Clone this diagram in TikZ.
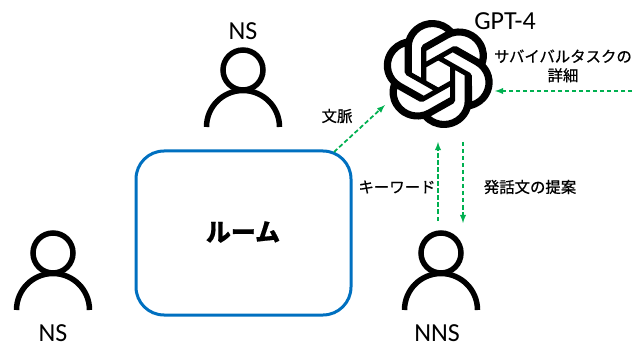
\documentclass[tikz,border=0pt]{standalone}
\usepackage{fontspec}
\setmainfont{Carlito}
\newfontfamily\jpfont[FakeBold=0.6]{Noto Sans CJK JP}
\usetikzlibrary{svg.path}
\definecolor{roomblue}{HTML}{0070C0}
\definecolor{flowgreen}{HTML}{00B050}
\tikzset{
  flow/.style={draw=flowgreen,line width=1.75pt,dash pattern=on 4.5pt off 2.5pt,-latex},
  latin/.style={inner sep=0pt,font=\fontsize{26}{26}\selectfont},
  jp/.style={inner sep=0pt,align=center,font=\jpfont\fontsize{15.4}{19}\selectfont},
  person/.pic={
    \draw[line width=5.5pt] (0,0) circle (20);
    \draw[line width=5.5pt] (-36.5,57) arc[radius=36.5, start angle=180, end angle=360];
  }
}
\begin{document}
\begin{tikzpicture}[x=1pt,y=-1pt]
  \useasboundingbox (0,0) rectangle (644,347);
  \node[draw=roomblue,line width=3pt,rounded corners=28pt,minimum width=215pt,minimum height=164pt,inner sep=0pt] (room) at (243.5,233) {};
  \node[jp,font=\jpfont\bfseries\fontsize{25}{25}\selectfont] (roomlabel) at (243,232) {ルーム};
  % people
  \foreach \x/\y in {243/70, 53/253, 441/253} {
    \pic at (\x,\y) {person};
  }
  \node[latin] (nstop) at (243,31) {NS};
  \node[latin] (nsleft) at (53,333) {NS};
  \node[latin] (nns) at (437,333) {NNS};
  % logo
  \node[inner sep=0pt,minimum size=108pt] (gpt) at (437.5,74) {};
  \begin{scope}[shift={(383,20)},xscale=4.6,yscale=-4.5]
    \fill[even odd rule] svg {M22.2819 9.8211a5.9847 5.9847 0 0 0-.5157-4.9108 6.0462 6.0462 0 0 0-6.5098-2.9A6.0651 6.0651 0 0 0 4.9807 4.1818a5.9847 5.9847 0 0 0-3.9977 2.9 6.0462 6.0462 0 0 0 .7427 7.0966 5.98 5.98 0 0 0 .511 4.9107 6.051 6.051 0 0 0 6.5146 2.9001A5.9847 5.9847 0 0 0 13.2599 24a6.0557 6.0557 0 0 0 5.7718-4.2058 5.9894 5.9894 0 0 0 3.9977-2.9001 6.0557 6.0557 0 0 0-.7475-7.0729z
    M13.2599 22.4292a4.4755 4.4755 0 0 1-2.8764-1.0408l.1419-.0804 4.7783-2.7582a.7948.7948 0 0 0 .3927-.6813v-6.7369l2.02 1.1686a.071.071 0 0 1 .038.052v5.5826a4.504 4.504 0 0 1-4.4945 4.4944z
    M3.5992 18.3038a4.4708 4.4708 0 0 1-.5346-3.0137l.142.0852 4.783 2.7582a.7712.7712 0 0 0 .7806 0l5.8428-3.3685v2.3324a.0804.0804 0 0 1-.0332.0615L9.74 19.9502a4.4992 4.4992 0 0 1-6.1408-1.6464z
    M2.3408 7.8956a4.485 4.485 0 0 1 2.3655-1.9728V11.6a.7664.7664 0 0 0 .3879.6765l5.8144 3.3543-2.0201 1.1685a.0757.0757 0 0 1-.071 0l-4.8303-2.7865A4.504 4.504 0 0 1 2.3408 7.872z
    M18.9371 11.7514L13.1038 8.364 15.1192 7.2a.0757.0757 0 0 1 .071 0l4.8303 2.7913a4.4944 4.4944 0 0 1-.6765 8.1042v-5.6772a.79.79 0 0 0-.407-.667z
    M20.9478 8.7283l-.142-.0852-4.7735-2.7818a.7759.7759 0 0 0-.7854 0L9.409 9.2297V6.8974a.0662.0662 0 0 1 .0284-.0615l4.8303-2.7866a4.4992 4.4992 0 0 1 6.6802 4.66z
    M8.3065 12.863l-2.02-1.1638a.0804.0804 0 0 1-.038-.0567V6.0742a4.4992 4.4992 0 0 1 7.3757-3.4537l-.142.0805L8.704 5.459a.7948.7948 0 0 0-.3927.6813z
    M9.4041 10.4976l2.602-1.4998 2.6069 1.4998v2.9994l-2.5974 1.4997-2.6067-1.4997Z};
  \end{scope}
  \node[latin] (gptlabel) at (505,21) {GPT-4};
  % flows
  \coordinate (ctxstart) at (334,152);
  \coordinate (ctxend) at (385,105);
  \coordinate (taskstart) at (632,91);
  \coordinate (taskend) at (495,91);
  \coordinate (kwstart) at (438,221);
  \coordinate (kwend) at (438,142);
  \coordinate (sugstart) at (463,142);
  \coordinate (sugend) at (463,223);
  \draw[flow] (ctxstart) -- (ctxend);
  \draw[flow] (taskstart) -- (taskend);
  \draw[flow] (kwstart) -- (kwend);
  \draw[flow] (sugstart) -- (sugend);
  \node[jp] (ctxlabel) at (337,116) {文脈};
  \node[jp] (tasklabel) at (563,66) {サバイバルタスクの\\詳細};
  \node[jp] (kwlabel) at (397,187) {キーワード};
  \node[jp] (suglabel) at (530,187) {発話文の提案};
\end{tikzpicture}
\end{document}
